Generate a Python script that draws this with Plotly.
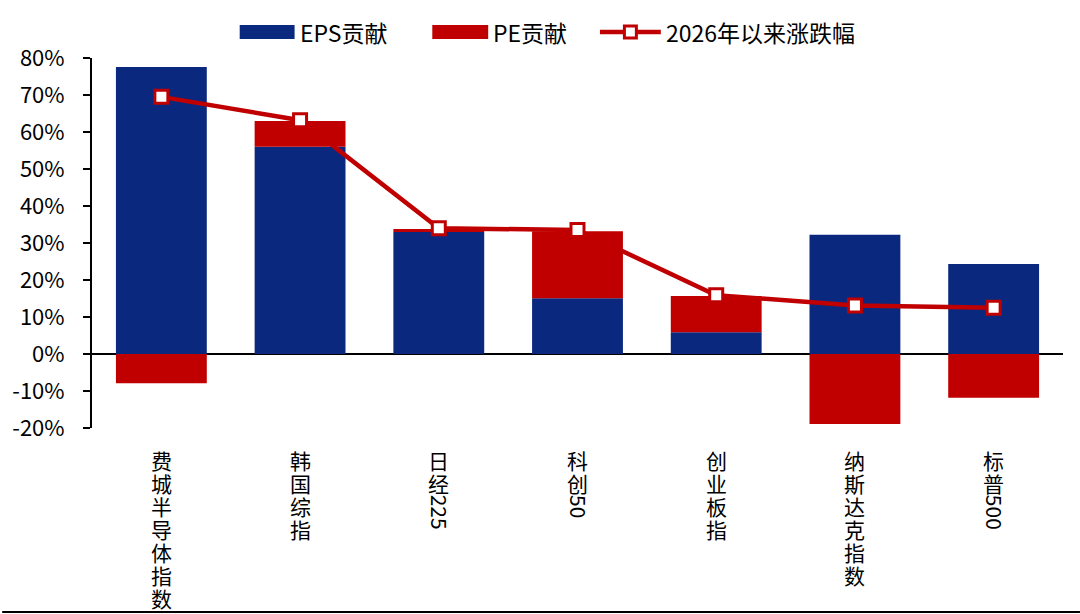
import re
import plotly.graph_objects as go

# 数据
categories = ["费城半导体指数", "韩国综指", "日经225", "科创50", "创业板指", "纳斯达克指数", "标普500"]
eps_contrib = [77.6, 56.0, 33.0, 15.1, 5.9, 32.2, 24.3]
pe_contrib = [-7.9, 7.0, 0.8, 18.1, 9.8, -18.9, -11.8]
ytd_change = [69.5, 63.2, 34.0, 33.5, 15.9, 13.1, 12.5]
y_ticks = [-20, -10, 0, 10, 20, 30, 40, 50, 60, 70, 80]

BLUE = "#0B287F"
RED = "#C00000"
FONT = "Noto Sans CJK SC"

W, H = 1080, 614
L, R, T, B = 90, 17, 58, 186


def px(x, y):
    # 像素 -> paper 坐标
    return (x - L) / (W - L - R), (H - B - y) / (H - T - B)


fig = go.Figure()
fig.add_trace(go.Bar(x=list(range(len(categories))), y=eps_contrib, name="EPS贡献",
                     marker=dict(color=BLUE, line_width=0), width=0.655))
fig.add_trace(go.Bar(x=list(range(len(categories))), y=pe_contrib, name="PE贡献",
                     marker=dict(color=RED, line_width=0), width=0.655))
fig.add_trace(go.Scatter(x=list(range(len(categories))), y=ytd_change, name="2026年以来涨跌幅",
                         mode="lines+markers", line=dict(color=RED, width=4.5),
                         marker=dict(symbol="square", size=13, color="white",
                                     line=dict(color=RED, width=3))))

# 竖排类别标签：汉字逐字竖排，数字旋转
STEP = 23
annotations = []
for i, name in enumerate(categories):
    m = re.match(r"^(\D+)(\d*)$", name)
    han, digits = m.group(1), m.group(2)
    for k, ch in enumerate(han):
        annotations.append(dict(x=i, y=-20, xref="x", yref="y", yanchor="top",
                                yshift=-15 - STEP * k, text=ch, showarrow=False,
                                font=dict(family=FONT, size=21, color="#000")))
    if digits:
        annotations.append(dict(x=i, y=-20, xref="x", yref="y", yanchor="top", xshift=2,
                                yshift=-15 - STEP * len(han) - 4, textangle=90,
                                text=digits, showarrow=False,
                                font=dict(family=FONT, size=21, color="#000")))

# 自定义图例
shapes = []
legend_items = [
    ("bar", BLUE, 238, 293, "EPS贡献"),
    ("bar", RED, 431, 487, "PE贡献"),
    ("line", RED, 599, 660, "2026年以来涨跌幅"),
]
for kind, color, x0, x1, label in legend_items:
    a0, b0 = px(x0, 39)
    a1, b1 = px(x1, 25)
    if kind == "bar":
        shapes.append(dict(type="rect", xref="paper", yref="paper", x0=a0, x1=a1, y0=b0, y1=b1,
                           fillcolor=color, line_width=0))
    else:
        ym = (b0 + b1) / 2
        shapes.append(dict(type="line", xref="paper", yref="paper", x0=a0, x1=a1, y0=ym, y1=ym,
                           line=dict(color=color, width=4.5)))
        cx = (x0 + x1) / 2
        s0, t0 = px(cx - 6, 38)
        s1, t1 = px(cx + 6, 26)
        shapes.append(dict(type="rect", xref="paper", yref="paper", x0=s0, x1=s1, y0=t0, y1=t1,
                           fillcolor="white", line=dict(color=color, width=3)))
    tx, ty = px(x1 + 3, 32)
    annotations.append(dict(x=tx, y=ty, xref="paper", yref="paper", xanchor="left", yanchor="middle",
                            text=label, showarrow=False,
                            font=dict(family=FONT, size=23, color="#000")))

# 底部边线
_, by = px(0, 612)
shapes.append(dict(type="line", xref="paper", yref="paper", x0=-L / (W - L - R), x1=1 + R / (W - L - R),
                   y0=by, y1=by, line=dict(color="#000", width=2)))

fig.update_layout(
    width=W, height=H,
    margin=dict(l=L, r=R, t=T, b=B),
    barmode="relative",
    bargap=0.345,
    showlegend=False,
    paper_bgcolor="white", plot_bgcolor="white",
    font=dict(family=FONT, size=22, color="#000"),
    annotations=annotations,
    shapes=shapes,
)
fig.update_xaxes(range=[-0.5, len(categories) - 0.5], showticklabels=False, showline=False,
                 showgrid=False, zeroline=False, ticks="")
fig.update_yaxes(range=[-20, 80], tickvals=y_ticks, ticktext=[f"{v}%" for v in y_ticks],
                 showgrid=False, showline=True, linecolor="#000", linewidth=2,
                 ticks="outside", ticklen=7, tickwidth=2, tickcolor="#000",
                 zeroline=True, zerolinecolor="#000", zerolinewidth=2,
                 ticklabelstandoff=14, tickfont=dict(family=FONT, size=22, color="#000"))

fig.write_html("out.html", config={"displayModeBar": False},
               post_script="document.body.style.margin='0';")
